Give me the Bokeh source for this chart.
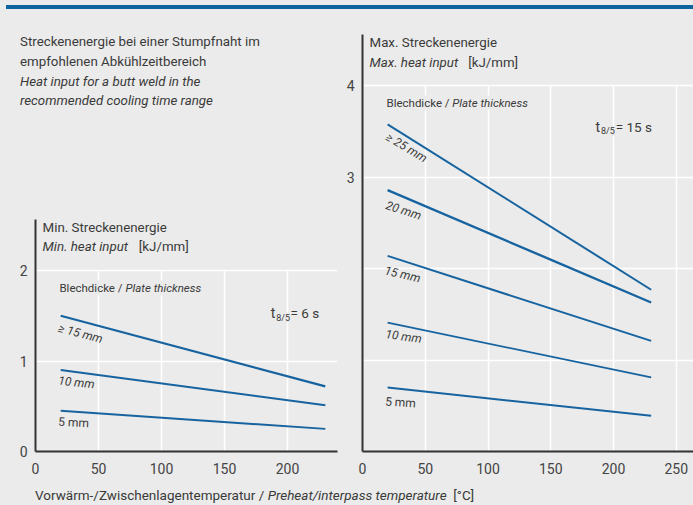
from bokeh.plotting import figure
from bokeh.models import Label, FixedTicker, Div, Range1d
from bokeh.layouts import column, row
from bokeh.embed import file_html
from bokeh.resources import INLINE

# ---------------- data ----------------
temps = [20, 230]                      # preheat / interpass temperature [°C]

# minimum heat input, t8/5 = 6 s  [kJ/mm]
min_ge15 = [1.50, 0.72]
min_10 = [0.90, 0.51]
min_5 = [0.45, 0.25]

# maximum heat input, t8/5 = 15 s  [kJ/mm]
max_ge25 = [3.58, 1.77]
max_20 = [2.86, 1.63]
max_15 = [2.14, 1.21]
max_10 = [1.41, 0.81]
max_5 = [0.70, 0.39]

left_xticks = [0, 50, 100, 150, 200]
right_xticks = [0, 50, 100, 150, 200, 250]
left_yticks = [0, 1, 2]
right_yticks = [3, 4]

# ---------------- style ----------------
BG = "#eaebea"
BLUE = "#1763a0"
BAR = "#0d65a0"
TXT = "#3a3a3a"
AX = "#333333"
FONT = "Roboto"
FIG_BOTTOM = 486          # page y where the chart figures end
TOP = 9                   # page y where the chart figures start
X_AXIS_Y = 451            # page y of the x axis lines


def make_fig(width, height, border_left, xmax, ymax):
    p = figure(width=width, height=height, x_range=Range1d(0, xmax), y_range=Range1d(0, ymax),
               output_backend="svg", toolbar_location=None,
               min_border_left=border_left, min_border_right=0, min_border_top=0,
               min_border_bottom=FIG_BOTTOM - X_AXIS_Y, background_fill_color=BG,
               border_fill_color=BG, outline_line_color=None)
    for ax in (p.xaxis[0], p.yaxis[0]):
        ax.axis_line_color = AX
        ax.axis_line_width = 2
        ax.major_tick_out = 0
        ax.major_tick_in = 0
        ax.minor_tick_out = 0
        ax.minor_tick_in = 0
        ax.major_label_text_font = FONT
        ax.major_label_text_font_size = "14px"
        ax.major_label_text_color = "#444444"
    p.xaxis[0].major_label_standoff = 11
    p.yaxis[0].major_label_standoff = 8
    for g in (p.xgrid[0], p.ygrid[0]):
        g.grid_line_color = "white"
        g.grid_line_width = 1.5
    return p


def set_grid(p, g, ticks, cross, vertical):
    g.ticker = FixedTicker(ticks=ticks)
    if "cross_bounds" in g.properties():
        g.cross_bounds = cross
    else:
        g.visible = False
        if vertical:
            p.segment(x0=ticks, y0=[cross[0]] * len(ticks), x1=ticks, y1=[cross[1]] * len(ticks),
                      line_color="white", line_width=1.5, level="underlay")
        else:
            p.segment(x0=[cross[0]] * len(ticks), y0=ticks, x1=[cross[1]] * len(ticks), y1=ticks,
                      line_color="white", line_width=1.5, level="underlay")


def lab(p, x, y, text, size=13.3, style="normal", angle=0, align="left", bg=None, color=TXT):
    l = Label(x=x, y=y, text=text, text_font=FONT, text_font_size=f"{size}px",
              text_font_style=style, text_color=color, angle=angle, angle_units="deg",
              text_align=align, text_baseline="middle")
    if bg is not None:
        l.background_fill_color = bg
        if "padding" in l.properties():
            l.padding = 0
    p.add_layout(l)


# ================= left chart: minimum heat input =================
PL_TOP = 200
L_XMAX = 305 / 1.26
L_YMAX = (X_AXIS_Y - PL_TOP) / 90.5
pl = make_fig(340, FIG_BOTTOM - PL_TOP, 35, L_XMAX, L_YMAX)
pl.xaxis[0].bounds = (0, 240)
pl.yaxis[0].bounds = (0, 2.56)
pl.xaxis[0].ticker = FixedTicker(ticks=left_xticks)
pl.yaxis[0].ticker = FixedTicker(ticks=left_yticks)
set_grid(pl, pl.xgrid[0], [50, 100, 150, 200], (0, 2), True)
set_grid(pl, pl.ygrid[0], [1, 2], (0, 240), False)

pl.line(temps, min_ge15, line_color=BLUE, line_width=2.3)
pl.line(temps, min_10, line_color=BLUE, line_width=2.0)
pl.line(temps, min_5, line_color=BLUE, line_width=2.0)

lab(pl, 5.6, 2.475, "Min. Streckenenergie")
lab(pl, 5.6, 2.265, "Min. heat input", style="italic")
lab(pl, 82.0, 2.265, "[kJ/mm]")

lab(pl, 71.4, 1.812, "Plate thickness", size=11.5, style="italic", bg=BG)
lab(pl, 19.0, 1.812, "Blechdicke /", size=11.5, bg=BG)

lab(pl, 202.4, 1.525, "= 6 s", size=13.5, bg=BG)
lab(pl, 191.0, 1.48, "8/5", size=9, bg=BG)
lab(pl, 186.8, 1.525, "t", size=14, bg=BG)

lab(pl, 35.7, 1.304, "\u2265 15 mm", size=12, style="italic", angle=-15, align="center")
lab(pl, 32.5, 0.762, "10 mm", size=12, style="italic", angle=-6, align="center")
lab(pl, 30.2, 0.320, "5 mm", size=12, angle=-3, align="center")

# ================= right chart: maximum heat input =================
R_XMAX = 331 / 1.255
R_YMAX = (X_AXIS_Y - TOP) / 91.4
pr = make_fig(353, FIG_BOTTOM - TOP, 22, R_XMAX, R_YMAX)
pr.yaxis[0].bounds = (0, 4.56)
pr.xaxis[0].ticker = FixedTicker(ticks=right_xticks)
pr.yaxis[0].ticker = FixedTicker(ticks=right_yticks)
set_grid(pr, pr.xgrid[0], [50, 100, 150, 200, 250], (0, 4), True)
set_grid(pr, pr.ygrid[0], [1, 2, 3, 4], (0, R_XMAX), False)

pr.line(temps, max_ge25, line_color=BLUE, line_width=2.0)
pr.line(temps, max_20, line_color=BLUE, line_width=2.4)
pr.line(temps, max_15, line_color=BLUE, line_width=2.0)
pr.line(temps, max_10, line_color=BLUE, line_width=1.8)
pr.line(temps, max_5, line_color=BLUE, line_width=2.0)

lab(pr, 5.6, 4.475, "Max. Streckenenergie")
lab(pr, 5.6, 4.256, "Max. heat input", style="italic")
lab(pr, 84.2, 4.256, "[kJ/mm]")

lab(pr, 71.5, 3.818, "Plate thickness", size=11.5, style="italic", bg=BG)
lab(pr, 19.1, 3.818, "Blechdicke /", size=11.5, bg=BG)

lab(pr, 201.8, 3.548, "= 15 s", size=13.5, bg=BG)
lab(pr, 190.0, 3.505, "8/5", size=9, bg=BG)
lab(pr, 185.6, 3.548, "t", size=14, bg=BG)

lab(pr, 35.1, 3.326, "\u2265 25 mm", size=12, style="italic", angle=-31, align="center")
lab(pr, 32.7, 2.637, "20 mm", size=12, style="italic", angle=-18, align="center")
lab(pr, 31.9, 1.937, "15 mm", size=12, style="italic", angle=-13, align="center")
lab(pr, 32.7, 1.258, "10 mm", size=12, style="italic", angle=-8, align="center")
lab(pr, 30.3, 0.536, "5 mm", size=12, angle=-4, align="center")

# ================= page layout =================
bar = Div(text="", width=693, height=TOP, margin=0,
          styles={"background": (f"linear-gradient(to right, {BG} 0px, {BG} 6px, transparent 6px), "
                                 f"linear-gradient(to bottom, {BG} 0px, {BG} 5px, {BAR} 5px, {BAR} 9px)")})

header = Div(
    text=('<div style="padding:23px 0 0 20px;line-height:19.8px;white-space:nowrap">'
          'Streckenenergie bei einer Stumpfnaht im<br>'
          'empfohlenen Abkühlzeitbereich<br>'
          '<i>Heat input for a butt weld in the</i><br>'
          '<i>recommended cooling time range</i></div>'),
    width=340, height=PL_TOP - TOP, margin=0,
    styles={"background-color": BG, "font-family": FONT, "font-size": "13.3px", "color": TXT})

xtitle = Div(
    text=('<div style="margin-left:35px;white-space:nowrap;line-height:16px">'
          'Vorwärm-/Zwischenlagentemperatur / <i>Preheat/interpass temperature</i>'
          '&nbsp;&nbsp;[°C]</div>'),
    width=693, height=505 - FIG_BOTTOM, margin=0,
    styles={"background-color": BG, "font-family": FONT, "font-size": "13.5px", "color": TXT})

left_col = column(header, pl, spacing=0, styles={"background-color": BG})
charts = row(left_col, pr, spacing=0, styles={"background-color": BG})
layout = column(bar, charts, xtitle, spacing=0, styles={"background-color": BG})
open("out.html", "w").write(file_html(layout, INLINE))
